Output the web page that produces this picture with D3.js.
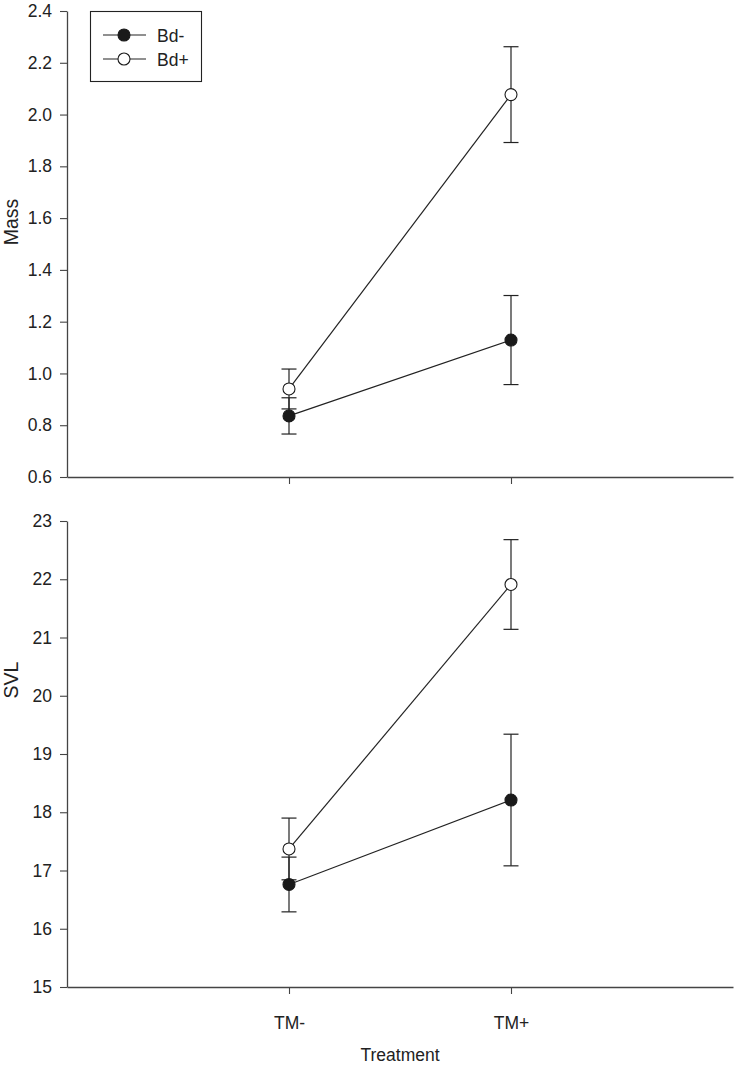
<!DOCTYPE html>
<html><head><meta charset="utf-8">
<script src="https://cdn.jsdelivr.net/npm/d3@7"></script>
<style>body{margin:0;background:#fff}svg text{font-family:"Liberation Sans",Arial,sans-serif;fill:#222}</style>
</head><body><svg id="c" width="737" height="1065"></svg>
<script>
const categories = ["TM-", "TM+"];
const series = ["Bd-", "Bd+"];
const massMean = { "Bd-": [0.836, 1.129], "Bd+": [0.940, 2.077] };
const massErr  = { "Bd-": [0.070, 0.172], "Bd+": [0.077, 0.185] };
const svlMean  = { "Bd-": [16.76, 18.21], "Bd+": [17.37, 21.91] };
const svlErr   = { "Bd-": [0.47, 1.13], "Bd+": [0.53, 0.77] };
const massTicks = [0.6, 0.8, 1.0, 1.2, 1.4, 1.6, 1.8, 2.0, 2.2, 2.4];
const svlTicks = [15, 16, 17, 18, 19, 20, 21, 22, 23];

const svg = d3.select("#c");
const x = d3.scaleLinear().domain([0, 3]).range([67, 733]);
const fills = { "Bd-": "#1a1a1a", "Bd+": "#fff" };

function panel(y, ticks, fmt, mean, err, label, labelY, showXLabels) {
  const g = svg.append("g");
  const yAx = g.append("g").attr("transform", "translate(67,0)")
    .call(d3.axisLeft(y).tickValues(ticks).tickFormat(fmt).tickSize(7).tickSizeOuter(0));
  const xAx = g.append("g").attr("transform", `translate(0,${y.range()[0]})`)
    .call(d3.axisBottom(x).tickValues([1, 2]).tickFormat((d, i) => showXLabels ? categories[i] : "").tickSize(7).tickSizeOuter(0));
  [yAx, xAx].forEach(a => {
    a.select(".domain").attr("stroke", "#444").attr("stroke-width", 1.3);
    a.selectAll(".tick line").attr("stroke", "#444").attr("stroke-width", 1.1);
    a.selectAll(".tick text").attr("font-size", 17.5).attr("fill", "#222").style("font-family", "Liberation Sans, Arial, sans-serif");
  });
  yAx.selectAll(".tick text").attr("x", -15);
  xAx.selectAll(".tick text").attr("y", 30);
  g.append("text").attr("transform", `translate(18,${labelY}) rotate(-90)`)
    .attr("text-anchor", "middle").attr("font-size", 19.5).text(label);

  series.forEach(s => {
    const pts = categories.map((c, i) => ({ cx: x(i + 1), m: mean[s][i], e: err[s][i] }));
    g.append("path").datum(pts)
      .attr("d", d3.line().x(d => d.cx).y(d => y(d.m)))
      .attr("fill", "none").attr("stroke", "#222").attr("stroke-width", 1.2);
    pts.forEach(d => {
      g.append("line").attr("x1", d.cx).attr("x2", d.cx).attr("y1", y(d.m - d.e)).attr("y2", y(d.m + d.e))
        .attr("stroke", "#222").attr("stroke-width", 1.2);
      [d.m - d.e, d.m + d.e].forEach(v => g.append("line")
        .attr("x1", d.cx - 7.5).attr("x2", d.cx + 7.5).attr("y1", y(v)).attr("y2", y(v))
        .attr("stroke", "#222").attr("stroke-width", 1.2));
    });
  });
  series.forEach(s => {
    categories.forEach((c, i) => {
      g.append("circle").attr("cx", x(i + 1)).attr("cy", y(mean[s][i])).attr("r", 6)
        .attr("fill", fills[s]).attr("stroke", "#1a1a1a").attr("stroke-width", 1.1);
    });
  });
}

const yMass = d3.scaleLinear().domain([0.6, 2.4]).range([477, 11]);
const ySvl = d3.scaleLinear().domain([15, 23]).range([987, 521]);
panel(yMass, massTicks, d3.format(".1f"), massMean, massErr, "Mass", 222, false);
panel(ySvl, svlTicks, d3.format("d"), svlMean, svlErr, "SVL", 680, true);

svg.append("text").attr("x", x(1.5)).attr("y", 1061).attr("text-anchor", "middle")
  .attr("font-size", 17.5).text("Treatment");

// legend
const lg = svg.append("g");
lg.append("rect").attr("x", 90.5).attr("y", 11.5).attr("width", 111).attr("height", 70)
  .attr("fill", "#fff").attr("stroke", "#222").attr("stroke-width", 1.1);
series.forEach((s, i) => {
  const yy = 35 + i * 24;
  lg.append("line").attr("x1", 103).attr("x2", 146).attr("y1", yy).attr("y2", yy).attr("stroke", "#222").attr("stroke-width", 1.2);
  lg.append("circle").attr("cx", 124).attr("cy", yy).attr("r", 6).attr("fill", fills[s]).attr("stroke", "#1a1a1a").attr("stroke-width", 1.1);
  lg.append("text").attr("x", 157).attr("y", yy + 6.5).attr("font-size", 17.5).text(s);
});
</script></body></html>
